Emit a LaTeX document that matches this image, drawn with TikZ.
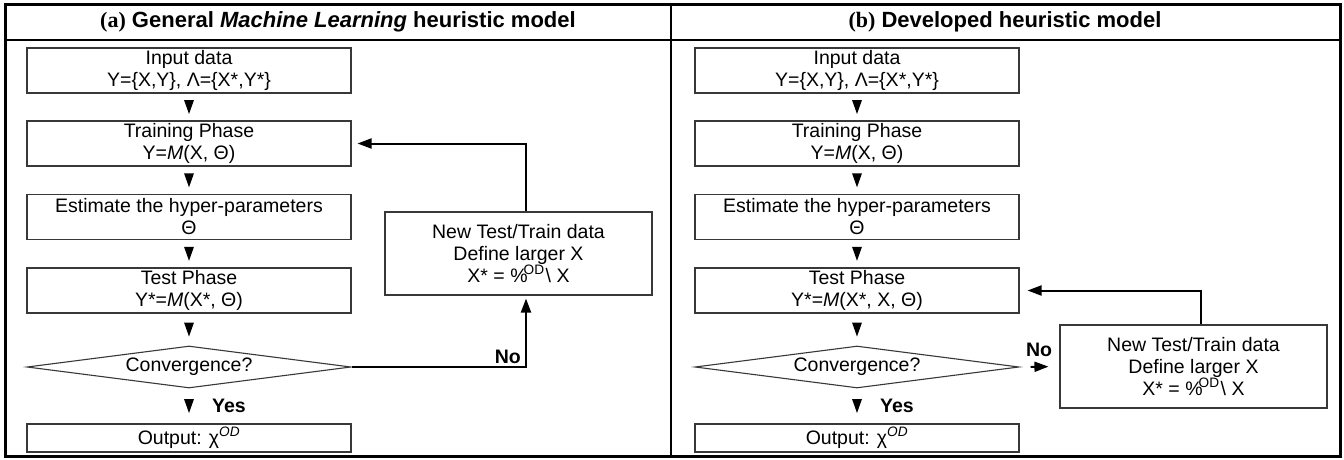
\documentclass[tikz,border=0pt]{standalone}
\usepackage{fontspec}
\setmainfont{Liberation Sans}
\newfontfamily\labelserif{Liberation Serif}
\usetikzlibrary{shapes.geometric,arrows.meta}
\definecolor{boxgray}{gray}{0.22}

% small filled down-pointing triangle centred on a coordinate
\newcommand\flowtri[1]{\fill (#1) +(-5,-7) -- +(5,-7) -- +(0,7) -- cycle;}

\begin{document}
\begin{tikzpicture}[x=1pt,y=-1pt,
  every node/.style={font=\fontsize{19.5}{22}\selectfont, inner sep=0pt},
  stepbox/.style={draw=boxgray, line width=1.1pt, minimum width=324pt,
                  minimum height=45pt, align=center},
  outbox/.style={stepbox, minimum height=28pt},
  loopbox/.style={draw=boxgray, line width=1.1pt, minimum width=267pt,
                  minimum height=83pt, align=center},
  decision/.style={diamond, draw=boxgray, line width=1.1pt, aspect=7.7,
                   minimum width=324pt, minimum height=42pt},
  paneltitle/.style={font=\fontsize{22}{25}\selectfont\bfseries},
  flag/.style={font=\fontsize{19.5}{22}\selectfont\bfseries},
  loopline/.style={line width=2pt, -{Triangle[length=14pt,width=10pt]}},
]
\useasboundingbox (0,0) rectangle (1344,460);

% frame, header rule and panel divider
\draw[line width=3pt] (5.5,4.5) rectangle (1340.5,456.5);
\draw[line width=2pt] (5.5,40) -- (1340.5,40);
\draw[line width=2pt] (671,4.5) -- (671,456.5);

\node[paneltitle] (tA) at (338,22)
  {{\labelserif(a)} General \textit{Machine Learning} heuristic model};
\node[paneltitle] (tB) at (1005,22)
  {{\labelserif(b)} Developed heuristic model};

% ---- panel (a): general heuristic model
\node[stepbox] (inA) at (189,70.5) {Input data\\Υ=\{X,Y\}, Λ=\{X*,Y*\}};
\node[stepbox] (trA) at (189,143.5) {Training Phase\\Y=\textit{M}(X, Θ)};
\node[stepbox] (esA) at (189,217) {Estimate the hyper-parameters\\Θ};
\node[stepbox] (teA) at (189,290.5) {Test Phase\\Y*=\textit{M}(X*, Θ)};
\node[decision] (cvA) at (189,367) {Convergence?};
\node[outbox] (ouA) at (189,438) {Output: χ\textsuperscript{\itshape OD}};
\node[loopbox] (nwA) at (518.5,253.5)
  {New Test/Train data\\Define larger X\\X* = \%\kern-0.2em\textsuperscript{OD}\kern0.05em\textbackslash\ X};

\path (inA.south) -- (trA.north) coordinate[midway] (a1);
\path (trA.south) -- (esA.north) coordinate[midway] (a2);
\path (esA.south) -- (teA.north) coordinate[midway] (a3);
\path (teA.south) -- (cvA.north) coordinate[midway] (a4);
\path (cvA.south) -- (ouA.north) coordinate[midway] (a5);
\flowtri{a1} \flowtri{a2} \flowtri{a3} \flowtri{a4} \flowtri{a5}
\node[flag, anchor=west] (yesA) at (212,406) {Yes};

\draw[loopline, shorten >=3pt] (cvA.east) -| ([xshift=7.5pt]nwA.south);
\draw[loopline, shorten >=6pt] ([xshift=7.5pt]nwA.north) |- (trA.east);
\node[flag, anchor=east] (noA) at (521,357) {No};

% ---- panel (b): developed heuristic model
\node[stepbox] (inB) at (857,70.5) {Input data\\Υ=\{X,Y\}, Λ=\{X*,Y*\}};
\node[stepbox] (trB) at (857,143.5) {Training Phase\\Y=\textit{M}(X, Θ)};
\node[stepbox] (esB) at (857,217) {Estimate the hyper-parameters\\Θ};
\node[stepbox] (teB) at (857,290.5) {Test Phase\\Y*=\textit{M}(X*, X, Θ)};
\node[decision] (cvB) at (857,367) {Convergence?};
\node[outbox] (ouB) at (857,438) {Output: χ\textsuperscript{\itshape OD}};
\node[loopbox] (nwB) at (1193.5,366.5)
  {New Test/Train data\\Define larger X\\X* = \%\kern-0.2em\textsuperscript{OD}\kern0.05em\textbackslash\ X};

\path (inB.south) -- (trB.north) coordinate[midway] (b1);
\path (trB.south) -- (esB.north) coordinate[midway] (b2);
\path (esB.south) -- (teB.north) coordinate[midway] (b3);
\path (teB.south) -- (cvB.north) coordinate[midway] (b4);
\path (cvB.south) -- (ouB.north) coordinate[midway] (b5);
\flowtri{b1} \flowtri{b2} \flowtri{b3} \flowtri{b4} \flowtri{b5}
\node[flag, anchor=west] (yesB) at (880,406) {Yes};

\draw[loopline, shorten <=11pt, shorten >=11pt] (cvB.east) -- (nwB.west);
\draw[loopline, shorten >=8pt] ([xshift=7.5pt]nwB.north) |- (teB.east);
\node[flag] (noB) at (1039,350) {No};
\end{tikzpicture}
\end{document}
